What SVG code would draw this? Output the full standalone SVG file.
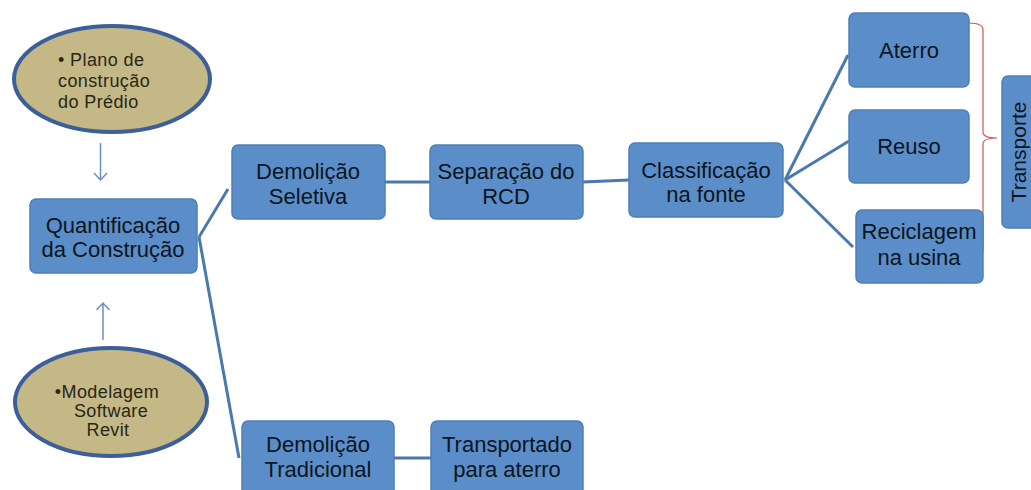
<svg xmlns="http://www.w3.org/2000/svg" width="1031" height="490" viewBox="0 0 1031 490">
<style>
.box{fill:#5b8ec8;stroke:#4d7fb6;stroke-width:1.5}
.t{font-family:"Liberation Sans",Arial,sans-serif;font-size:22px;fill:#0d1520;text-anchor:middle}
.et{font-family:"Liberation Sans",Arial,sans-serif;font-size:18px;letter-spacing:0.4px;fill:#2a2616}
.ell{fill:#c3b886;stroke:#3c5f99;stroke-width:4}
.con{stroke:#4a79ad;stroke-width:3;fill:none}
.arr{stroke:#6a8fc0;stroke-width:1.5;fill:none}
</style>
<rect width="1031" height="490" fill="#ffffff"/>
<g id="connectors">
<path class="con" d="M199,237 L228,189"/>
<path class="con" d="M199,237 L239,458"/>
<path class="con" d="M385,182 L430,182"/>
<path class="con" d="M583,182 L629,180"/>
<path class="con" d="M785,180 L848,55"/>
<path class="con" d="M785,180 L849,141"/>
<path class="con" d="M785,180 L853,247"/>
<path class="con" d="M394,458 L431,458"/>
<path class="arr" d="M100.5,143 L100.5,180 M94,173 L100.5,180 L107,173"/>
<path class="arr" d="M103,340 L103,303 M96.5,310 L103,303 L109.5,310"/>
<path d="M969,23 Q983,23 983,30 L983,132 Q983,138 997,138 Q983,138 983,144 L983,250 Q983,257 968,257" fill="none" stroke="#d9534f" stroke-width="1.2"/>
</g>
<g id="plano">
<ellipse class="ell" cx="112" cy="79" rx="98" ry="53"/>
<text class="et" x="58" y="66">• Plano de</text>
<text class="et" x="58" y="87">construção</text>
<text class="et" x="58" y="108">do Prédio</text>
</g>
<g id="modelagem">
<ellipse class="ell" cx="111" cy="402" rx="96" ry="54"/>
<text class="et" x="107" y="398" text-anchor="middle">•Modelagem</text>
<text class="et" x="111" y="417" text-anchor="middle">Software</text>
<text class="et" x="108" y="436" text-anchor="middle">Revit</text>
</g>
<g id="quantificacao">
<rect class="box" x="30" y="199" width="167" height="74" rx="6"/>
<text class="t" x="113" y="233">Quantificação</text>
<text class="t" x="113" y="257">da Construção</text>
</g>
<g id="demolicao-seletiva">
<rect class="box" x="232" y="145" width="153" height="74" rx="6"/>
<text class="t" x="308" y="179">Demolição</text>
<text class="t" x="308" y="204">Seletiva</text>
</g>
<g id="separacao">
<rect class="box" x="430" y="145" width="153" height="74" rx="6"/>
<text class="t" x="506" y="179">Separação do</text>
<text class="t" x="506" y="204">RCD</text>
</g>
<g id="classificacao">
<rect class="box" x="629" y="143" width="154" height="74" rx="6"/>
<text class="t" x="706" y="178">Classificação</text>
<text class="t" x="706" y="202">na fonte</text>
</g>
<g id="aterro">
<rect class="box" x="849" y="13" width="120" height="74" rx="6"/>
<text class="t" x="909" y="58">Aterro</text>
</g>
<g id="reuso">
<rect class="box" x="849" y="110" width="120" height="73" rx="6"/>
<text class="t" x="909" y="154">Reuso</text>
</g>
<g id="reciclagem">
<rect class="box" x="856" y="210" width="127" height="73" rx="6"/>
<text class="t" x="919" y="239">Reciclagem</text>
<text class="t" x="919" y="265">na usina</text>
</g>
<g id="transporte">
<rect class="box" x="1002" y="76" width="40" height="152" rx="6"/>
<text class="t" transform="translate(1026,152) rotate(-90)" x="0" y="0" style="font-size:21px">Transporte</text>
</g>
<g id="demolicao-tradicional">
<rect class="box" x="242" y="421" width="152" height="80" rx="6"/>
<text class="t" x="318" y="452">Demolição</text>
<text class="t" x="318" y="477">Tradicional</text>
</g>
<g id="transportado">
<rect class="box" x="431" y="421" width="152" height="80" rx="6"/>
<text class="t" x="507" y="452">Transportado</text>
<text class="t" x="507" y="477">para aterro</text>
</g>
</svg>
